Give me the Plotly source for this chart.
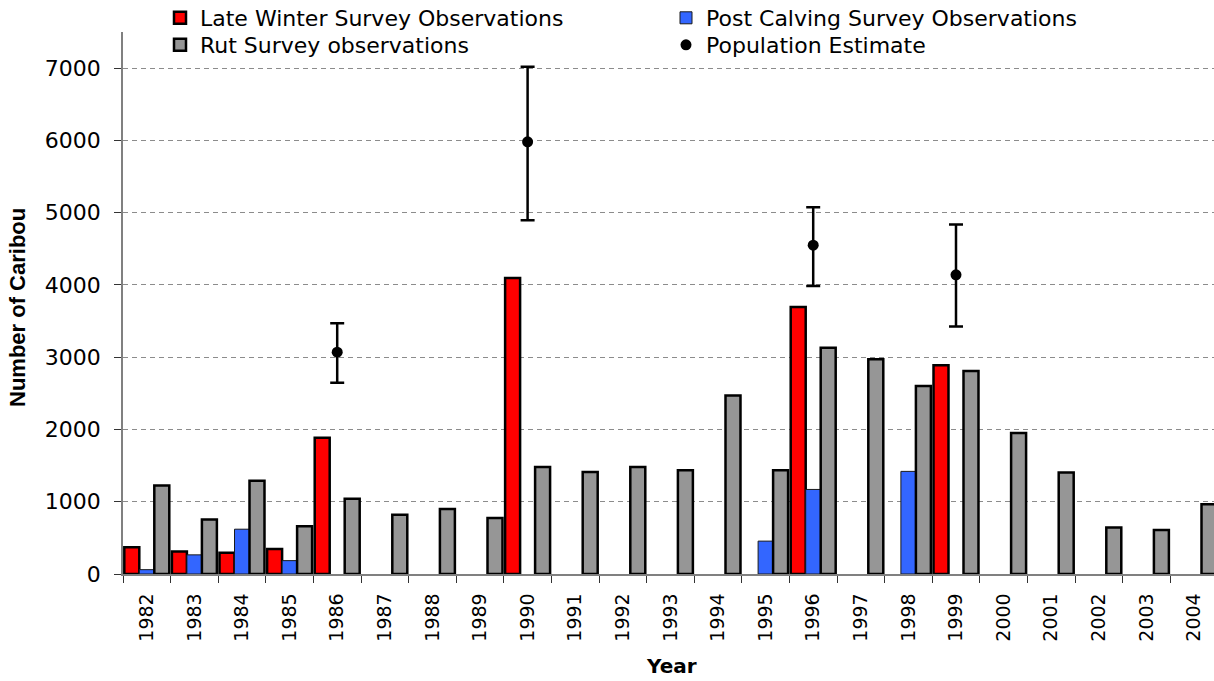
import plotly.graph_objects as go

# Survey years (categories)
years = [str(y) for y in range(1982, 2005)]

# Caribou counts per survey type (None = no survey that year)
late_winter = [370, 310, 295, 345, 1885, None, None, None, 4095, None, None, None,
               None, None, 3695, None, None, 2890, None, None, None, None, None]
post_calving = [60, 265, 620, 185, None, None, None, None, None, None, None, None,
                None, 455, 1170, None, 1420, None, None, None, None, None, None]
rut = [1225, 755, 1290, 660, 1040, 820, 900, 775, 1480, 1410, 1480, 1435,
       2470, 1435, 3130, 2970, 2600, 2810, 1950, 1405, 645, 610, 965]

# Population estimates with confidence limits
pop_years = ["1986", "1990", "1996", "1999"]
pop_est = [3070, 5980, 4550, 4140]
pop_upper = [3470, 7020, 5075, 4835]
pop_lower = [2645, 4895, 3985, 3425]

y_ticks = [0, 1000, 2000, 3000, 4000, 5000, 6000, 7000]

fig = go.Figure()

fig.add_trace(go.Bar(
    x=years, y=late_winter, name="Late Winter Survey Observations",
    marker=dict(color="#FF0000", line=dict(color="#000000", width=2.5)),
    legend="legend",
))
fig.add_trace(go.Bar(
    x=years, y=post_calving, name="Post Calving Survey Observations",
    marker=dict(color="#3366FF", line=dict(color="#1a1a1a", width=1)),
    legend="legend",
))
fig.add_trace(go.Bar(
    x=years, y=rut, name="Rut Survey observations",
    marker=dict(color="#969696", line=dict(color="#000000", width=2.5)),
    legend="legend2",
))
fig.add_trace(go.Scatter(
    x=pop_years, y=pop_est, name="Population Estimate", mode="markers",
    marker=dict(color="#000000", size=11),
    error_y=dict(type="data", symmetric=False,
                 array=[u - e for u, e in zip(pop_upper, pop_est)],
                 arrayminus=[e - l for e, l in zip(pop_est, pop_lower)],
                 color="#000000", thickness=2.5, width=7),
    legend="legend2",
))

W, H = 1214, 681
ML, MR, MT, MB = 123, 0, 32, 107
plot_w = W - ML - MR
plot_h = H - MT - MB

legend_font = dict(family="DejaVu Sans", size=22, color="#000000")
col_start = 160
legend_x = (col_start - ML) / plot_w


def px_to_paper_y(py):
    return (H - MB - py) / plot_h


fig.update_layout(
    width=W, height=H,
    margin=dict(l=ML, r=MR, t=MT, b=MB, autoexpand=False),
    paper_bgcolor="#FFFFFF", plot_bgcolor="#FFFFFF",
    barmode="group", bargap=0.055, bargroupgap=0,
    font=dict(family="DejaVu Sans", color="#000000"),
    legend=dict(orientation="h", x=legend_x, xanchor="left",
                y=px_to_paper_y(18), yanchor="middle",
                entrywidth=461, font=legend_font,
                bgcolor="rgba(0,0,0,0)", traceorder="normal"),
    legend2=dict(orientation="h", x=legend_x, xanchor="left",
                 y=px_to_paper_y(45), yanchor="middle",
                 entrywidth=461, font=legend_font,
                 bgcolor="rgba(0,0,0,0)", traceorder="normal"),
    xaxis=dict(
        type="category", categoryorder="array", categoryarray=years,
        range=[-0.5, -0.5 + plot_w / 47.6],
        tickson="boundaries", ticks="outside", ticklen=7, tickcolor="#333333",
        tickangle=-90, ticklabelstandoff=10,
        tickfont=dict(family="DejaVu Sans", size=19, color="#000000"),
        showline=True, linecolor="#808080", linewidth=1.5,
        showgrid=False, zeroline=False,
    ),
    yaxis=dict(
        range=[0, 7500], tickvals=y_ticks, ticktext=[str(v) for v in y_ticks],
        ticks="outside", ticklen=7, tickcolor="#333333", ticklabelstandoff=9,
        tickfont=dict(family="DejaVu Sans", size=22, color="#000000"),
        showline=True, linecolor="#808080", linewidth=1.5,
        showgrid=True, gridcolor="#8c8c8c", gridwidth=1, griddash="5px,4px",
        zeroline=False,
    ),
    annotations=[
        dict(text="<b>Number of Caribou</b>", xref="paper", yref="paper",
             x=(17 - ML) / plot_w, y=px_to_paper_y(308), textangle=-90,
             xanchor="center", yanchor="middle", showarrow=False,
             font=dict(family="Liberation Sans", size=22, color="#000000")),
        dict(text="<b>Year</b>", xref="paper", yref="paper",
             x=(671 - ML) / plot_w, y=px_to_paper_y(666),
             xanchor="center", yanchor="middle", showarrow=False,
             font=dict(family="DejaVu Sans", size=20, color="#000000")),
    ],
)

fig.write_html("out.html")
